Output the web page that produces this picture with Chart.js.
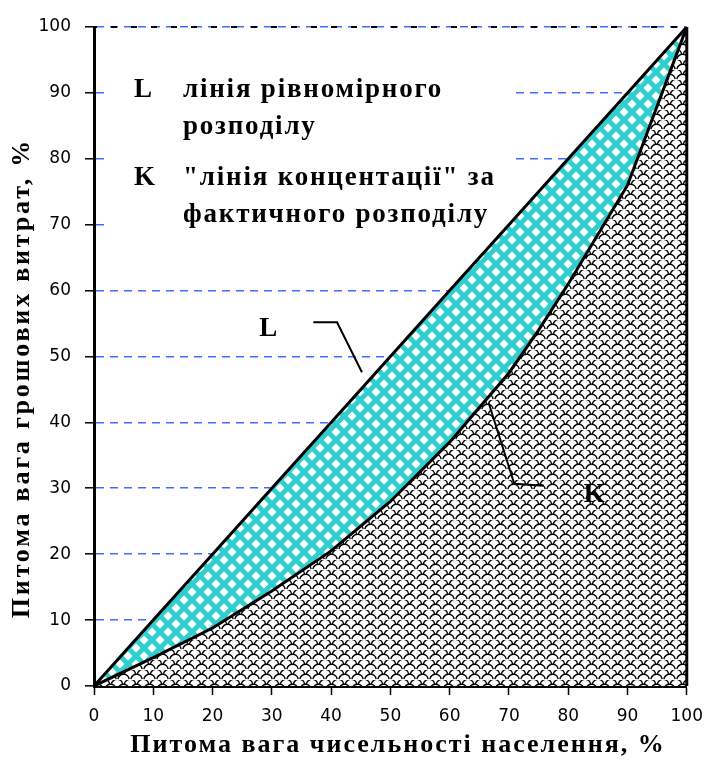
<!DOCTYPE html>
<html>
<head>
<meta charset="utf-8">
<script src="https://cdn.jsdelivr.net/npm/chart.js@4/dist/chart.umd.min.js"></script>
<style>
  html, body { margin: 0; padding: 0; background: #fff; }
  #wrap { position: relative; width: 714px; height: 763px; }
</style>
</head>
<body>
<div id="wrap"><canvas id="lorenz"></canvas></div>
<script>
// Data
const popShare = [0, 10, 20, 30, 40, 50, 60, 70, 75, 80, 90, 100];
const equalLine = [0, 10, 20, 30, 40, 50, 60, 70, 75, 80, 90, 100];
const concLine = [0, 4.3, 8.8, 14.4, 20.5, 28, 37, 47.5, 54, 61, 76, 100];
const axisTicks = [0, 10, 20, 30, 40, 50, 60, 70, 80, 90, 100];

const xTitle = 'Питома вага чисельності населення, %';
const yTitle = 'Питома вага грошових витрат, %';
const legendRows = [
    { key: 'L', lines: ['лінія рівномірного', 'розподілу'] },
    { key: 'K', lines: ['"лінія концентації" за', 'фактичного розподілу'] }
];
// leader lines of the curve labels (data coordinates)
const leaderL = [[37, 55.2], [41, 55.2], [45.2, 47.6]];
const leaderK = [[75.9, 30.4], [70.9, 30.7], [66.6, 42.9]];
const labelL = [29.4, 54.2];
const labelK = [84.4, 29];

const TEAL = '#2fcfcf';
const GRID_BLUE = '#3f6cff';
const SERIF = '"Liberation Serif", "DejaVu Serif", serif';

// checker (diamond) pattern
function makeCheckerPattern() {
    const s = 16;
    const c = document.createElement('canvas');
    c.width = s; c.height = s;
    const g = c.getContext('2d');
    g.fillStyle = TEAL;
    g.fillRect(0, 0, s, s);
    g.fillStyle = '#fff';
    const r = 4.5;
    const centres = [[0, 0], [s, 0], [0, s], [s, s], [s / 2, s / 2]];
    centres.forEach(([cx, cy]) => {
        g.beginPath();
        g.moveTo(cx, cy - r);
        g.lineTo(cx + r, cy);
        g.lineTo(cx, cy + r);
        g.lineTo(cx - r, cy);
        g.closePath();
        g.fill();
    });
    return g.createPattern(c, 'repeat');
}

// fish-scale pattern
function makeScalePattern() {
    const w = 13, h = 10;
    const c = document.createElement('canvas');
    c.width = w; c.height = h;
    const g = c.getContext('2d');
    g.fillStyle = '#fff';
    g.fillRect(0, 0, w, h);
    g.strokeStyle = '#000';
    g.lineWidth = 1.4;
    const arcs = [[0, h / 2], [w, h / 2], [w / 2, 0], [w / 2, h]];
    arcs.forEach(([cx, cy]) => {
        g.beginPath();
        g.arc(cx, cy, w / 2 - 0.8, 1.05 * Math.PI, 1.95 * Math.PI);
        g.stroke();
    });
    return g.createPattern(c, 'repeat');
}

const extras = {
    id: 'extras',
    beforeDatasetsDraw(chart) {
        const { ctx, scales: { x, y } } = chart;
        // white box behind the legend text
        ctx.save();
        ctx.fillStyle = '#fff';
        ctx.fillRect(x.getPixelForValue(2.7), y.getPixelForValue(95),
            x.getPixelForValue(70.8) - x.getPixelForValue(2.7),
            y.getPixelForValue(67.8) - y.getPixelForValue(95));
        // black dashes on the 100 line
        ctx.strokeStyle = '#000';
        ctx.lineWidth = 2;
        ctx.setLineDash([6, 14]);
        ctx.lineDashOffset = 3;
        ctx.beginPath();
        ctx.moveTo(x.left, y.getPixelForValue(100));
        ctx.lineTo(x.right, y.getPixelForValue(100));
        ctx.stroke();
        ctx.restore();
    },
    afterDraw(chart) {
        const { ctx, scales: { x, y } } = chart;
        ctx.save();
        // right edge
        ctx.strokeStyle = '#000';
        ctx.lineWidth = 3;
        ctx.beginPath();
        ctx.moveTo(x.getPixelForValue(100), y.getPixelForValue(0));
        ctx.lineTo(x.getPixelForValue(100), y.getPixelForValue(100));
        ctx.stroke();

        // leader lines
        ctx.lineWidth = 2;
        [leaderL, leaderK].forEach(pts => {
            ctx.beginPath();
            pts.forEach(([vx, vy], i) => {
                const px = x.getPixelForValue(vx), py = y.getPixelForValue(vy);
                if (i === 0) ctx.moveTo(px, py); else ctx.lineTo(px, py);
            });
            ctx.stroke();
        });

        ctx.fillStyle = '#000';
        ctx.font = 'bold 27px ' + SERIF;
        ctx.textBaseline = 'middle';
        ctx.textAlign = 'center';
        ctx.fillText('L', x.getPixelForValue(labelL[0]), y.getPixelForValue(labelL[1]));
        ctx.fillText('K', x.getPixelForValue(labelK[0]), y.getPixelForValue(labelK[1]));

        // legend text
        ctx.textAlign = 'left';
        ctx.textBaseline = 'alphabetic';
        let ty = 97;
        legendRows.forEach(row => {
            ctx.letterSpacing = '0px';
            ctx.fillText(row.key, 134, ty);
            ctx.letterSpacing = '1.8px';
            row.lines.forEach((ln, i) => {
                ctx.fillText(ln, 183, ty + i * 37);
            });
            ty += 88;
        });

        // axis titles
        ctx.textAlign = 'center';
        ctx.textBaseline = 'middle';
        ctx.font = 'bold 26px ' + SERIF;
        ctx.letterSpacing = '2px';
        ctx.fillText(xTitle, 398, 745);
        ctx.letterSpacing = '2.8px';
        ctx.translate(22, 378);
        ctx.rotate(-Math.PI / 2);
        ctx.fillText(yTitle, 0, 0);
        ctx.restore();
    }
};

const ctx = document.getElementById('lorenz').getContext('2d');
const lorenzChart = new Chart(ctx, {
    type: 'line',
    data: {
        datasets: [
            {
                label: 'K',
                data: popShare.map((v, i) => ({ x: v, y: concLine[i] })),
                borderColor: '#000',
                borderWidth: 3,
                backgroundColor: makeScalePattern(),
                fill: 'origin',
                pointRadius: 0,
                tension: 0
            },
            {
                label: 'L',
                data: popShare.map((v, i) => ({ x: v, y: equalLine[i] })),
                borderColor: '#000',
                borderWidth: 3,
                backgroundColor: makeCheckerPattern(),
                fill: '-1',
                pointRadius: 0,
                tension: 0
            }
        ]
    },
    options: {
        responsive: true,
        maintainAspectRatio: false,
        animation: false,
        layout: { padding: { top: 27, right: 22, left: 0, bottom: 0 } },
        plugins: {
            legend: { display: false },
            tooltip: { enabled: false }
        },
        scales: {
            x: {
                type: 'linear',
                min: 0,
                max: 100,
                afterFit: s => { s.height = 77; },
                afterBuildTicks: s => { s.ticks = axisTicks.map(v => ({ value: v })); },
                grid: { drawOnChartArea: false, drawTicks: true, tickLength: 9, tickColor: '#000', tickWidth: 1.5 },
                border: { color: '#000', width: 3 },
                ticks: {
                    color: '#000',
                    padding: 11,
                    maxRotation: 0,
                    font: { family: '"DejaVu Sans", sans-serif', size: 17 }
                }
            },
            y: {
                min: 0,
                max: 100,
                afterFit: s => { s.width = 94; },
                afterBuildTicks: s => { s.ticks = axisTicks.map(v => ({ value: v })); },
                grid: {
                    color: GRID_BLUE,
                    lineWidth: 1.6,
                    drawTicks: true,
                    tickLength: 9,
                    tickColor: '#000',
                    tickWidth: 1.5,
                    tickBorderDash: []
                },
                border: { color: '#000', width: 3, dash: [8, 6] },
                ticks: {
                    color: '#000',
                    padding: 14,
                    font: { family: '"DejaVu Sans", sans-serif', size: 17 }
                }
            }
        }
    },
    plugins: [extras]
});
</script>
</body>
</html>
